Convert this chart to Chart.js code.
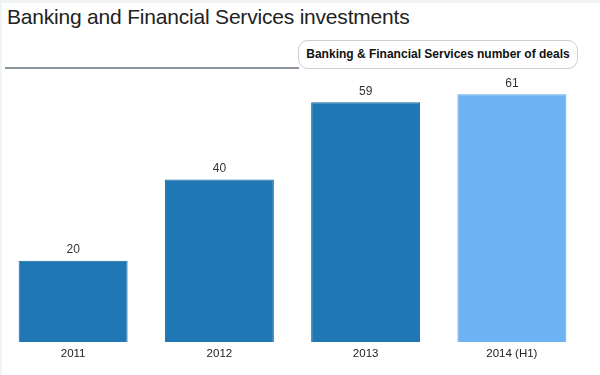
<!DOCTYPE html>
<html>
<head>
<meta charset="utf-8">
<script src="https://cdn.jsdelivr.net/npm/chart.js@4/dist/chart.umd.min.js"></script>
<style>
  body { margin: 0; background: #f1f4f5; font-family: "Liberation Sans", Arial, sans-serif; }
  #wrap { position: relative; width: 600px; height: 375px; overflow: hidden; }
  #panel { position: absolute; left: 2px; top: 3px; right: 0; bottom: 0; background: #fff; }
  #title { position: absolute; left: 7px; top: 5px; font-size: 21px; color: #222; letter-spacing: -0.2px; }
  #rule { position: absolute; left: 5px; top: 67px; width: 294px; height: 2px; background: #8d959b; }
  #tab { position: absolute; left: 298px; top: 40px; width: 278px; height: 27px; border: 1px solid #c9cfd4;
         border-radius: 10px; box-sizing: content-box; font-size: 12px; font-weight: bold; color: #111;
         text-align: center; line-height: 27px; background: #fff; }
  canvas { position: absolute; left: 0; top: 0; }
</style>
</head>
<body>
<div id="wrap">
  <div id="panel"></div>
  <div id="title">Banking and Financial Services investments</div>
  <div id="rule"></div>
  <div id="tab">Banking &amp; Financial Services number of deals</div>
  <canvas id="myChart" width="600" height="375"></canvas>
</div>
<script>
const categories = ['2011', '2012', '2013', '2014 (H1)'];
const dealCounts = [20, 40, 59, 61];

const valueLabels = {
    id: 'valueLabels',
    afterDatasetsDraw(chart) {
        const ctx = chart.ctx;
        const meta = chart.getDatasetMeta(0);
        ctx.save();
        ctx.font = '12px "Liberation Sans", Arial, sans-serif';
        ctx.fillStyle = '#333';
        ctx.textAlign = 'center';
        ctx.textBaseline = 'bottom';
        meta.data.forEach((bar, i) => {
            ctx.fillText(dealCounts[i], bar.x, bar.y - 5);
        });
        ctx.restore();
    }
};

const ctx = document.getElementById('myChart').getContext('2d');
new Chart(ctx, {
    type: 'bar',
    data: {
        labels: categories,
        datasets: [{
            label: 'Banking & Financial Services number of deals',
            data: dealCounts,
            backgroundColor: ['#1f77b4', '#1f77b4', '#1f77b4', '#6db3f3'],
            borderColor: ['#1a67a0', '#1a67a0', '#1a67a0', '#5fa5e4'],
            borderWidth: 1,
            barPercentage: 0.745,
            categoryPercentage: 1
        }]
    },
    options: {
        responsive: false,
        animation: false,
        layout: { padding: { top: 78, left: 0, right: 15, bottom: 0 } },
        plugins: { legend: { display: false }, tooltip: { enabled: false } },
        scales: {
            x: {
                grid: { display: false, drawTicks: false },
                border: { display: false },
                ticks: { color: '#222', font: { size: 11.5, family: '"Liberation Sans", Arial, sans-serif' }, padding: 5 },
                afterFit: (scale) => { scale.height = 33; }
            },
            y: {
                display: false,
                min: 0,
                max: 65
            }
        }
    },
    plugins: [valueLabels]
});
</script>
</body>
</html>
